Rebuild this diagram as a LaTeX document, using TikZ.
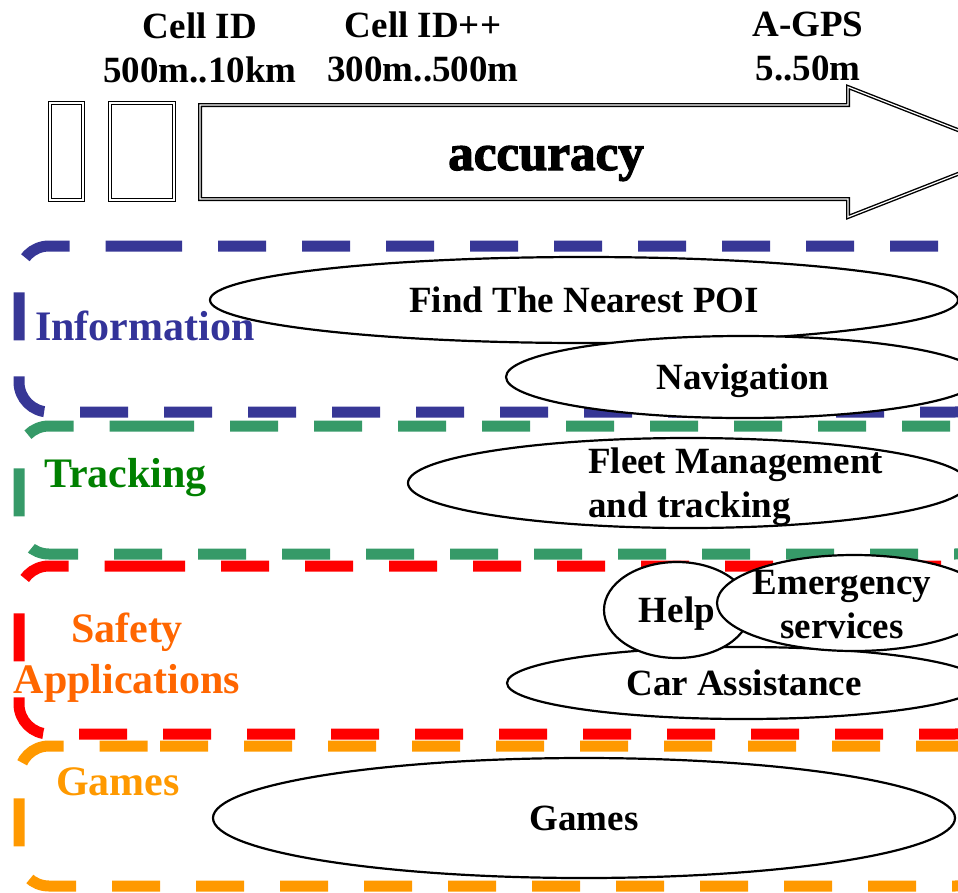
\documentclass[tikz,border=0pt]{standalone}
\usepackage{fontspec}
\setmainfont{Liberation Serif}
\newfontfamily\heavyfont[BoldFeatures={FakeBold=2.5}]{Liberation Serif}
\usetikzlibrary{shapes.geometric}
\definecolor{infoblue}{RGB}{55,55,150}
\definecolor{infotext}{RGB}{51,51,153}
\definecolor{trackgreen}{RGB}{54,154,104}
\definecolor{tracktext}{RGB}{0,128,0}
\definecolor{safetyred}{RGB}{255,0,0}
\definecolor{safetytext}{RGB}{255,102,0}
\definecolor{gamesorange}{RGB}{255,153,0}
\tikzset{
  dashbox/.style={line width=11pt, rounded corners=30pt, dash pattern=on 48pt off 36pt},
  service/.style={shape=ellipse, draw=black, fill=white, line width=2.2pt, inner sep=0pt,
    font=\fontsize{37}{44}\selectfont\bfseries, text height=25pt, text depth=0pt},
  techlabel/.style={align=center, font=\fontsize{37}{44}\selectfont\bfseries, inner sep=0pt},
  grouplabel/.style={align=center, font=\fontsize{42}{51}\selectfont\bfseries, inner sep=0pt},
  scalebar/.style={draw=black, line width=1.4pt, double=white, double distance=1.2pt}
}
\begin{document}
\begin{tikzpicture}[x=1pt,y=-1pt]
    \useasboundingbox (0,0) rectangle (958,892);
    \clip (0,0) rectangle (958,892);

    % accuracy scale
    \node[techlabel, anchor=base] (cellid) at (200,82) {Cell ID\\500m..10km};
    \node[techlabel, anchor=base] (cellidpp) at (423,81) {Cell ID++\\300m..500m};
    \node[techlabel, anchor=base] (agps) at (808,80) {A-GPS\\5..50m};

    \draw[scalebar] (50,103) rectangle (83,200);
    \draw[scalebar] (110,103) rectangle (174,200);
    \draw[scalebar] (200,105) -- (848,105) -- (848,87) -- (1014,152) -- (848,217) -- (848,199) -- (200,199) -- cycle;
    \node[inner sep=0pt, anchor=base, font=\fontsize{51}{60}\heavyfont\bfseries] (acc) at (546,170) {accuracy};

    % groups
    \draw[dashbox, infoblue] (104,246) -- (985,246) -- (985,412) -- (19,412) -- (19,246) -- cycle;
    \draw[dashbox, trackgreen] (116,426) -- (985,426) -- (985,554) -- (19,554) -- (19,426) -- cycle;
    \draw[dashbox, safetyred] (107,566) -- (985,566) -- (985,734) -- (19,734) -- (19,566) -- cycle;
    \draw[dashbox, gamesorange] (130,746) -- (985,746) -- (985,886) -- (19,886) -- (19,746) -- cycle;

    % services
    \node[service, minimum width=748pt, minimum height=86pt] (poi) at (584,300) {Find The Nearest POI};
    \node[service, minimum width=474pt, minimum height=82pt] (nav) at (743,377) {Navigation};
    \node[service, minimum width=560pt, minimum height=90pt] (fleet) at (688,483) {};
    \node[techlabel, align=left, anchor=base west] (fleettext) at (588,517) {Fleet Management\\and tracking};
    \node[service, minimum width=474pt, minimum height=72pt] (car) at (744,683) {Car Assistance};
    \node[service, minimum width=146pt, minimum height=96pt] (help) at (677,610) {Help};
    \node[service, minimum width=274pt, minimum height=96pt] (emerg) at (854,603) {};
    \node[techlabel, anchor=base] (emergtext) at (842,638) {Emergency\\services};
    \node[service, minimum width=742pt, minimum height=120pt] (games) at (584,818) {Games};

    \node[grouplabel, text=infotext, anchor=base west] (info) at (35,340) {Information};
    \node[grouplabel, text=tracktext, anchor=base west] (track) at (44,487) {Tracking};
    \node[grouplabel, text=safetytext, anchor=base] (safety) at (127,693) {Safety\\Applications};
    \node[grouplabel, text=gamesorange, anchor=base west] (gamesgrp) at (56,795) {Games};
\end{tikzpicture}
\end{document}
